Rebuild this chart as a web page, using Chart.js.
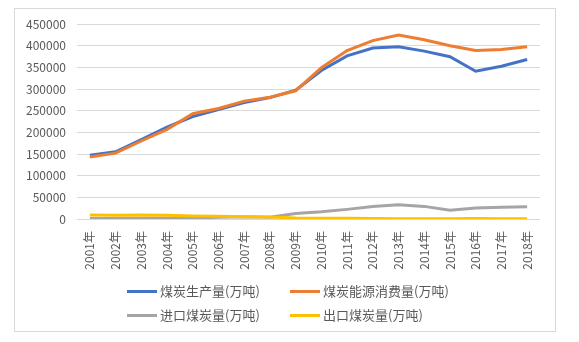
<!DOCTYPE html>
<html>
<head>
<meta charset="utf-8">
<script src="https://cdn.jsdelivr.net/npm/chart.js@4"></script>
<style>
  body { margin: 0; background: #fff; width: 579px; height: 342px; overflow: hidden; position: relative; }
  #frame { position: absolute; left: 14px; top: 8px; width: 542px; height: 324px; border: 1px solid #d9d9d9; box-sizing: border-box; }
  #wrap { position: absolute; left: 0; top: 0; width: 579px; height: 342px; }
  .leg { position: absolute; font-family: "Noto Sans CJK SC", sans-serif; font-size: 13px; color: #595959; line-height: 16px; white-space: nowrap; }
  .leg i { display: inline-block; width: 30px; height: 3px; vertical-align: middle; margin-right: 3px; position: relative; top: -1px; }
</style>
</head>
<body>
<div id="frame"></div>
<div id="wrap"><canvas id="coal"></canvas></div>
<div id="legend"></div>
<script>
const years = ['2001年', '2002年', '2003年', '2004年', '2005年', '2006年', '2007年', '2008年', '2009年',
  '2010年', '2011年', '2012年', '2013年', '2014年', '2015年', '2016年', '2017年', '2018年'];
const production = [147000, 155000, 183000, 212000, 236500, 252800, 269000, 280200, 297300,
  342800, 376400, 394500, 397400, 387400, 374600, 341000, 352400, 368000];
const consumption = [143000, 152000, 180000, 207000, 243000, 255000, 272000, 281000, 295800,
  349000, 388900, 411700, 424400, 413600, 399800, 388800, 391400, 397400];
const imports = [1000, 1100, 1100, 1900, 2600, 3800, 5100, 4000, 12600,
  16500, 22200, 28900, 32700, 29100, 20400, 25600, 27100, 28100];
const exports = [9000, 8400, 9400, 8700, 7200, 6300, 5300, 4500, 2200,
  1900, 1500, 900, 750, 570, 530, 880, 810, 490];
const seriesNames = ['煤炭生产量(万吨)', '煤炭能源消费量(万吨)', '进口煤炭量(万吨)', '出口煤炭量(万吨)'];
const colors = ['#4472C4', '#ED7D31', '#A5A5A5', '#FFC000'];

const font = '"Noto Sans CJK SC", sans-serif';
const values = [production, consumption, imports, exports];

new Chart(document.getElementById('coal'), {
  type: 'line',
  data: {
    labels: years,
    datasets: values.map((v, i) => ({
      label: seriesNames[i],
      data: v,
      borderColor: colors[i],
      backgroundColor: colors[i],
      borderWidth: 3,
      pointRadius: 0,
      tension: 0,
      order: 3 - i
    }))
  },
  options: {
    responsive: true,
    maintainAspectRatio: false,
    animation: false,
    layout: { padding: { left: 0, right: 39, top: 24, bottom: 63 } },
    plugins: { legend: { display: false }, tooltip: { enabled: false } },
    scales: {
      x: {
        offset: true,
        grid: { display: false },
        border: { display: false },
        ticks: { minRotation: 90, maxRotation: 90, padding: 4, color: '#595959', font: { family: font, size: 12 } },
        afterFit: s => { s.height = 60; }
      },
      y: {
        min: 0, max: 450000,
        grid: { color: '#d9d9d9', drawTicks: false },
        border: { display: false },
        ticks: { stepSize: 50000, padding: 11, color: '#595959', font: { family: font, size: 12 },
          callback: v => String(v) },
        afterFit: s => { s.width = 77; }
      }
    }
  }
});

// legend in two aligned columns
const pos = [[127, 283], [290, 283], [127, 307], [290, 307]];
const legend = document.getElementById('legend');
seriesNames.forEach((name, i) => {
  const d = document.createElement('div');
  d.className = 'leg';
  d.style.left = pos[i][0] + 'px';
  d.style.top = pos[i][1] + 'px';
  d.innerHTML = '<i style="background:' + colors[i] + '"></i>' + name;
  legend.appendChild(d);
});
</script>
</body>
</html>
